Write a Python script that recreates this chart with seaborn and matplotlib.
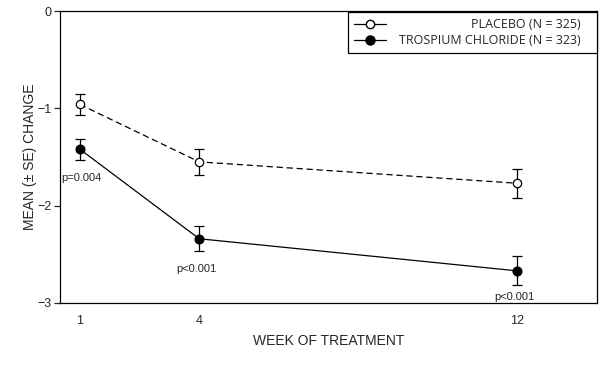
import pandas as pd
import numpy as np
import seaborn as sns
import matplotlib.pyplot as plt
from matplotlib.lines import Line2D

# data
weeks = [1, 4, 12]
placebo_mean = [-0.96, -1.55, -1.77]
placebo_se = [0.11, 0.13, 0.15]
trospium_mean = [-1.42, -2.34, -2.67]
trospium_se = [0.11, 0.13, 0.15]
p_labels = ['p=0.004', 'p<0.001', 'p<0.001']
p_pos = [(1.05, -1.72), (3.94, -2.65), (11.92, -2.94)]
legend_labels = ['PLACEBO (N = 325)', 'TROSPIUM CHLORIDE (N = 323)']

df = pd.DataFrame({
    'week': weeks * 2,
    'change': placebo_mean + trospium_mean,
    'group': ['Placebo'] * 3 + ['Trospium'] * 3,
})

sns.set_style('white')
plt.rcParams['font.family'] = ['Liberation Sans', 'DejaVu Sans']

fig = plt.figure(figsize=(6.08, 3.67), dpi=100)
ax = fig.add_axes([0.0987, 0.1744, 0.8833, 0.7956])

#ERROR BARS
ax.errorbar(weeks, placebo_mean, yerr=placebo_se, fmt='none', ecolor='black',
            elinewidth=0.9, capsize=3.5, capthick=0.9, zorder=2)
ax.errorbar(weeks, trospium_mean, yerr=trospium_se, fmt='none', ecolor='black',
            elinewidth=0.9, capsize=3.5, capthick=0.9, zorder=2)

#LINES
sns.lineplot(data=df[df.group == 'Placebo'], x='week', y='change', ax=ax,
             color='black', linewidth=0.9, linestyle=(0, (5, 3)), marker='o',
             markersize=6, markerfacecolor='white', markeredgecolor='black',
             markeredgewidth=0.9, zorder=3)
sns.lineplot(data=df[df.group == 'Trospium'], x='week', y='change', ax=ax,
             color='black', linewidth=0.9, marker='o', markersize=6.5,
             markerfacecolor='black', markeredgecolor='black', zorder=3)

for txt, (px, py) in zip(p_labels, p_pos):
    ax.text(px, py, txt, ha='center', va='center', fontsize=8)

ax.set_xlim(0.5, 14)
ax.set_ylim(-3, 0)
ax.set_xticks(weeks)
ax.set_yticks([0, -1, -2, -3])
ax.tick_params(axis='x', length=0, labelsize=9, pad=9)
ax.tick_params(axis='y', length=4, width=0.9, labelsize=9, left=True, pad=2)
for s in ax.spines.values():
    s.set_color('black')
    s.set_linewidth(0.9)

ax.set_xlabel('WEEK OF TREATMENT', fontsize=10, labelpad=5)
ax.set_ylabel('MEAN (± SE) CHANGE', fontsize=10, labelpad=0)

handles = [
    Line2D([], [], color='black', linewidth=0.9, marker='o', markersize=6,
           markerfacecolor='white', markeredgecolor='black'),
    Line2D([], [], color='black', linewidth=0.9, marker='o', markersize=6.5,
           markerfacecolor='black'),
]
leg = ax.legend(handles, legend_labels,
                loc='upper right', bbox_to_anchor=(1.0, 0.995), borderaxespad=0,
                frameon=True, fancybox=False, edgecolor='black', framealpha=1,
                handlelength=2.6, handletextpad=1.88, labelspacing=0.25,
                borderpad=0.45, prop={'family': 'Open Sans', 'size': 9})
leg.get_frame().set_linewidth(0.9)

# right align legend texts, leave extra room on the right
fig.canvas.draw()
renderer = fig.canvas.get_renderer()
widths = [t.get_window_extent(renderer).width for t in leg.get_texts()]
for t, w in zip(leg.get_texts(), widths):
    t.set_position((max(widths) - w - 11, 0))

fig.savefig('out.png', dpi=100, facecolor='white')
